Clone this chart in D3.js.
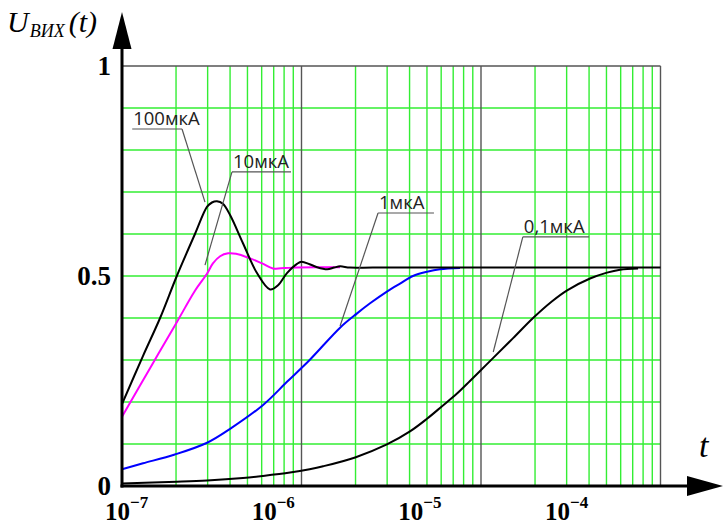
<!DOCTYPE html>
<html>
<head>
<meta charset="utf-8">
<script src="https://cdn.jsdelivr.net/npm/d3@7"></script>
<style>
  body { margin: 0; background: #fff; }
  svg { display: block; }
</style>
</head>
<body>
<div id="chart"></div>
<script>
// ---- data ----
// 100мкА (black, with ringing, then flat 0.52 to the end)
const t100 = [1e-7, 1.31e-7, 1.63e-7, 2.02e-7, 2.55e-7, 2.98e-7, 3.17e-7, 3.38e-7, 3.65e-7, 4.0e-7,
              4.72e-7, 5.65e-7, 6.68e-7, 7.4e-7, 8.3e-7, 9.44e-7, 1.0e-6, 1.11e-6, 1.22e-6, 1.39e-6,
              1.52e-6, 1.64e-6, 1.86e-6, 2.5e-6, 1e-5, 5e-5, 1e-4];
const v100 = [0.195, 0.31, 0.40, 0.50, 0.60, 0.665, 0.675, 0.678, 0.672, 0.645,
              0.578, 0.507, 0.468, 0.478, 0.507, 0.529, 0.534, 0.528, 0.521, 0.516,
              0.52, 0.523, 0.52, 0.52, 0.52, 0.52, 0.52];
// 10мкА (magenta)
const t10 = [1e-7, 1.43e-7, 2.02e-7, 2.55e-7, 2.98e-7, 3.21e-7, 3.52e-7, 3.9e-7, 4.32e-7, 5.17e-7,
             6.03e-7, 6.94e-7, 8.09e-7, 9.44e-7, 1.64e-6];
const v10 = [0.165, 0.28, 0.39, 0.465, 0.506, 0.530, 0.547, 0.554, 0.553, 0.542,
             0.53, 0.518, 0.519, 0.52, 0.521];
// 1мкА (blue)
const t1 = [1e-7, 1.31e-7, 1.97e-7, 2.98e-7, 4.0e-7, 6.11e-7, 8.3e-7, 1.11e-6, 1.64e-6, 2.04e-6,
            2.41e-6, 2.99e-6, 3.54e-6, 4.18e-6, 5.0e-6, 5.91e-6, 7.64e-6];
const v1 = [0.04, 0.054, 0.075, 0.103, 0.136, 0.193, 0.248, 0.30, 0.377, 0.411,
            0.435, 0.463, 0.482, 0.50, 0.51, 0.516, 0.519];
// 0,1мкА (black)
const t01 = [1e-7, 2.02e-7, 2.98e-7, 4.72e-7, 6.11e-7, 8.63e-7, 1.11e-6, 1.32e-6, 1.99e-6, 2.99e-6,
             4.02e-6, 5.0e-6, 6.07e-6, 7.35e-6, 8.68e-6, 1.01e-5, 1.17e-5, 1.51e-5, 1.95e-5, 2.49e-5,
             3.02e-5, 4.05e-5, 5.03e-5, 5.95e-5, 7.5e-5];
const v01 = [0.006, 0.010, 0.013, 0.019, 0.024, 0.032, 0.040, 0.047, 0.068, 0.099,
             0.130, 0.160, 0.190, 0.220, 0.250, 0.278, 0.305, 0.352, 0.400, 0.440,
             0.466, 0.494, 0.508, 0.515, 0.518];

// annotation labels: underline from tA to tB at level vLine, leader to (tP, vP)
const noteText  = ["100мкА", "10мкА", "1мкА", "0,1мкА"];
const noteTA    = [1.14e-7, 4.1e-7, 2.67e-6, 1.71e-5];
const noteTB    = [2.16e-7, 8.74e-7, 5.47e-6, 4.0e-5];
const noteV     = [0.85, 0.748, 0.65, 0.593];
const noteTP    = [2.9e-7, 2.9e-7, 1.64e-6, 1.17e-5];
const noteVP    = [0.676, 0.526, 0.381, 0.319];
const noteFromB = [true, false, false, false];   // leader leaves from right end of underline

// axis ticks
const yTickValues = [0, 0.5, 1];
const yTickLabels = ["0", "0.5", "1"];
const xExponents = [-7, -6, -5, -4];

// ---- drawing ----
const width = 723, height = 527;
const svg = d3.select("#chart").append("svg")
    .attr("width", width)
    .attr("height", height);

const x = d3.scaleLog().domain([1e-7, 1e-4]).range([122, 660.5]);
const y = d3.scaleLinear().domain([0, 1]).range([486, 66]);

//Green minor grid
const minorT = [];
[1e-7, 1e-6, 1e-5].forEach(function(d) {
    for (let k = 2; k <= 9; k++) minorT.push(d * k);
});
const gridV = d3.range(1, 10).map(function(d) { return d / 10; });

svg.append("g").selectAll("line")
    .data(minorT)
    .enter().append("line")
    .attr("x1", function(d) { return x(d); })
    .attr("x2", function(d) { return x(d); })
    .attr("y1", y(0)).attr("y2", y(1))
    .attr("stroke", "#33ee33").attr("stroke-width", 1.4);

svg.append("g").selectAll("line")
    .data(gridV)
    .enter().append("line")
    .attr("x1", x(1e-7)).attr("x2", x(1e-4))
    .attr("y1", function(d) { return y(d); })
    .attr("y2", function(d) { return y(d); })
    .attr("stroke", "#33ee33").attr("stroke-width", 1.4);

//Decade lines and top border in grey
svg.append("g").selectAll("line")
    .data([1e-6, 1e-5, 1e-4])
    .enter().append("line")
    .attr("x1", function(d) { return x(d); })
    .attr("x2", function(d) { return x(d); })
    .attr("y1", y(0)).attr("y2", y(1))
    .attr("stroke", "#555").attr("stroke-width", 1.4);

svg.append("line")
    .attr("x1", x(1e-7)).attr("x2", x(1e-4))
    .attr("y1", y(1)).attr("y2", y(1))
    .attr("stroke", "#555").attr("stroke-width", 1.4);

//Curves
const line = d3.line()
    .x(function(d) { return x(d[0]); })
    .y(function(d) { return y(d[1]); })
    .curve(d3.curveCatmullRom.alpha(0.5));

const series = [
    {t: t01, v: v01, color: "#000000"},
    {t: t1, v: v1, color: "#0000ff"},
    {t: t10, v: v10, color: "#ff00ff"},
    {t: t100, v: v100, color: "#000000"}
];
series.forEach(function(s) {
    svg.append("path")
        .datum(d3.zip(s.t, s.v))
        .attr("d", line)
        .attr("fill", "none")
        .attr("stroke", s.color)
        .attr("stroke-width", 2);
});

//Annotations
noteText.forEach(function(txt, i) {
    const xa = x(noteTA[i]), xb = x(noteTB[i]), yl = y(noteV[i]);
    svg.append("line")
        .attr("x1", xa).attr("x2", xb).attr("y1", yl).attr("y2", yl)
        .attr("stroke", "#555").attr("stroke-width", 1.2);
    svg.append("line")
        .attr("x1", noteFromB[i] ? xb : xa).attr("y1", yl)
        .attr("x2", x(noteTP[i])).attr("y2", y(noteVP[i]))
        .attr("stroke", "#555").attr("stroke-width", 1.2);
    svg.append("text")
        .attr("x", xa + 1).attr("y", yl - 4)
        .attr("font-family", "'Open Sans', sans-serif")
        .attr("font-size", 18.5)
        .attr("fill", "#222")
        .text(txt);
});

//Axes with arrows
svg.append("line")
    .attr("x1", x(1e-7)).attr("x2", x(1e-7))
    .attr("y1", y(0) + 1.5).attr("y2", 40)
    .attr("stroke", "#000").attr("stroke-width", 3);
svg.append("path")
    .attr("d", d3.line()([[x(1e-7), 12], [x(1e-7) - 9.5, 49], [x(1e-7) + 9.5, 49]]))
    .attr("fill", "#000");

svg.append("line")
    .attr("x1", x(1e-7) - 1.5).attr("x2", 695)
    .attr("y1", y(0)).attr("y2", y(0))
    .attr("stroke", "#000").attr("stroke-width", 3);
svg.append("path")
    .attr("d", d3.line()([[723, y(0)], [687, y(0) - 10], [687, y(0) + 10]]))
    .attr("fill", "#000");

//Y tick labels
svg.append("g").selectAll("text")
    .data(yTickValues)
    .enter().append("text")
    .attr("x", 111)
    .attr("y", function(d) { return y(d); })
    .attr("dy", "0.35em")
    .attr("text-anchor", "end")
    .attr("font-family", "'Liberation Serif', serif")
    .attr("font-weight", "bold")
    .attr("font-size", 27)
    .text(function(d, i) { return yTickLabels[i]; });

//X tick labels (placed as in the original, slightly left of the decade lines)
const labelX = d3.scaleLinear().domain([-7, -4]).range([105, 545]);
const xt = svg.append("g").selectAll("text")
    .data(xExponents)
    .enter().append("text")
    .attr("x", function(d) { return labelX(d); })
    .attr("y", 520)
    .attr("font-family", "'Liberation Serif', serif")
    .attr("font-weight", "bold")
    .attr("font-size", 25);
xt.append("tspan").text("10");
xt.append("tspan")
    .attr("dy", -12)
    .attr("font-size", 17)
    .text(function(d) { return "\u2212" + Math.abs(d); });

//Axis titles
const yt = svg.append("text")
    .attr("x", 7).attr("y", 32)
    .attr("font-family", "'Liberation Serif', serif")
    .attr("font-style", "italic")
    .attr("font-size", 30);
yt.append("tspan").text("U");
yt.append("tspan").attr("dy", 5).attr("dx", 1).attr("font-size", 18).text("ВИХ");
yt.append("tspan").attr("dy", -5).attr("dx", 4).attr("font-size", 30).text("(t)");

svg.append("text")
    .attr("x", 699).attr("y", 457)
    .attr("font-family", "'Liberation Serif', serif")
    .attr("font-style", "italic")
    .attr("font-size", 34)
    .text("t");
</script>
</body>
</html>
